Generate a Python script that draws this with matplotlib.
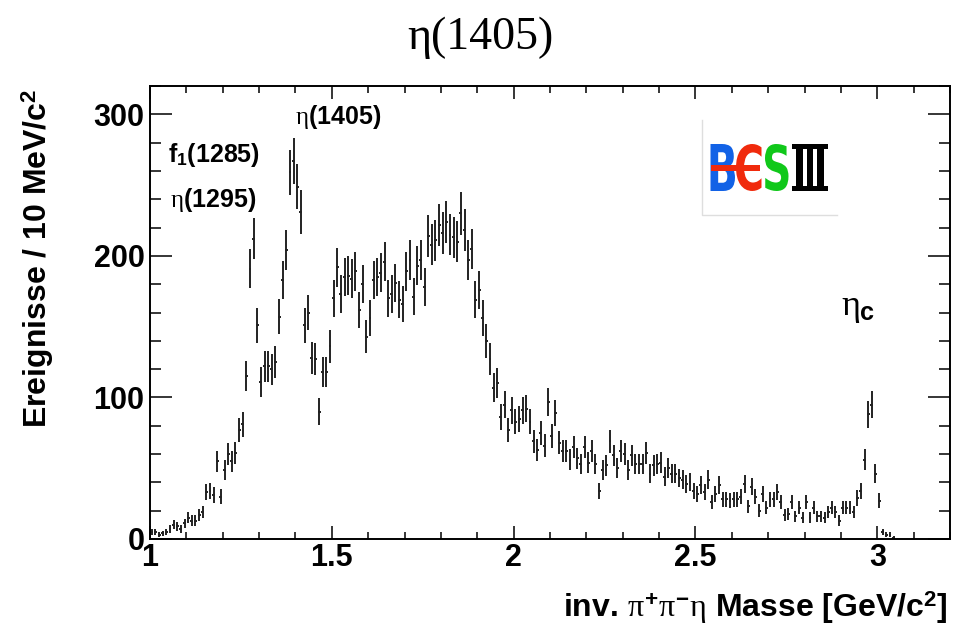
import numpy as np
import matplotlib
matplotlib.use("Agg")
import matplotlib.pyplot as plt
import matplotlib.transforms as mtransforms
from matplotlib.textpath import TextPath
from matplotlib.patches import PathPatch, Rectangle
from matplotlib.font_manager import FontProperties
from matplotlib.ticker import MultipleLocator, FuncFormatter

# ---------------- data ----------------
bin_low_edge = 1.0      # GeV/c^2
bin_width = 0.01        # 10 MeV/c^2

counts_low = [5, 5, 3, 4, 5, 7, 10, 9, 7, 11, 15, 13, 13, 17, 19, 33, 34, 31, 55, 30,
              49, 60, 55, 61, 77, 81, 115, 191, 212, 151, 111, 122, 122, 120, 125, 157,
              183, 204, 259, 267, 249, 231, 151, 160, 128, 127, 90, 118, 118, 136, 170, 192]
counts_bump = [173, 185, 186, 184, 189, 162, 180, 143, 156, 183,
               185, 188, 196, 170, 173, 181, 169, 166, 189, 197,
               171, 193, 197, 178, 214, 208, 211, 222, 216, 224,
               215, 213, 210, 230, 218, 197, 205, 169, 176, 156,
               140, 127, 107, 110, 86, 95, 77, 91, 83]
counts_tail = [85, 91, 92, 83, 69, 63, 75, 66, 97, 73,
               89, 68, 62, 62, 56, 65, 57, 53, 65, 54,
               62, 53, 34, 49, 52, 69, 59, 50, 62, 60,
               49, 59, 53, 53, 53, 61, 46, 52, 53, 54,
               44, 50, 46, 46, 43, 42, 39, 40, 34, 32,
               38, 33, 42, 26, 32, 38]
counts_etac = [28, 28, 27, 28, 28, 30, 39, 23, 37, 30,
               20, 32, 22, 28, 28, 33, 26, 17, 18, 26,
               16, 22, 15, 26, 15, 22, 16, 16, 15, 19,
               22, 19, 13, 22, 22, 22, 19, 29, 34, 56,
               88, 95, 46, 27, 5, 3, 3, 1]

x_ticks = [1, 1.5, 2, 2.5, 3]
y_ticks = [0, 100, 200, 300]
title_text = "η(1405)"
y_label = "Ereignisse / 10 MeV/c$^{2}$"
x_label = r"inv. $\pi^{+}\pi^{-}\eta$ Masse [GeV/c$^{2}$]"
labels = [r"$\eta$(1405)", r"f$_{1}$(1285)", r"$\eta$(1295)"]
label_pos = [(1.399, 292.9), (1.0495, 266.5), (1.055, 234.7)]
etac_label = r"$\eta_{\mathbf{c}}$"
etac_pos = (2.900, 158.0)

# ---------------- style ----------------
plt.rcParams['font.family'] = ['Liberation Sans', 'DejaVu Sans']
plt.rcParams['font.weight'] = 'bold'
plt.rcParams['mathtext.fontset'] = 'custom'
plt.rcParams['mathtext.rm'] = 'Liberation Sans:bold'
plt.rcParams['mathtext.bf'] = 'Liberation Sans:bold'
plt.rcParams['mathtext.sf'] = 'Liberation Sans:bold'
plt.rcParams['mathtext.it'] = 'Liberation Serif:style=normal:weight=normal'

counts = np.array(counts_low + counts_bump + counts_tail + counts_etac, dtype=float)
centers = bin_low_edge + bin_width * (np.arange(len(counts)) + 0.5)
mask = counts > 0

fig = plt.figure(figsize=(9.57, 6.30), dpi=100)
W, H = 957, 630
L, R, T, B = 150, 950, 86, 539
ax = fig.add_axes([L / W, (H - B) / H, (R - L) / W, (B - T) / H])

ax.errorbar(centers[mask], counts[mask], yerr=np.sqrt(counts[mask]),
            xerr=0.004, fmt='none', ecolor='#222222', elinewidth=1.4, capsize=0)

ax.set_xlim(1.0, 3.2)
ax.set_ylim(0, 320)
ax.set_xticks(x_ticks)
ax.set_yticks(y_ticks)
ax.xaxis.set_minor_locator(MultipleLocator(0.1))
ax.yaxis.set_minor_locator(MultipleLocator(20))
ax.xaxis.set_major_formatter(FuncFormatter(lambda v, p: "%g" % v))
ax.yaxis.set_major_formatter(FuncFormatter(lambda v, p: "%g" % v))

for s in ax.spines.values():
    s.set_linewidth(1.4)
    s.set_color('black')

ax.tick_params(axis='x', which='major', direction='in', length=9.5, width=1.1,
               top=True, bottom=True, labelsize=22, pad=3)
ax.tick_params(axis='x', which='minor', direction='in', length=4.8, width=1.1,
               top=True, bottom=True)
ax.tick_params(axis='y', which='major', direction='in', length=16, width=1.1,
               left=True, right=True, labelsize=22, pad=4)
ax.tick_params(axis='y', which='minor', direction='in', length=8, width=1.1,
               left=True, right=True)
for lab in ax.get_xticklabels() + ax.get_yticklabels():
    lab.set_fontweight('bold')

ax.set_ylabel(y_label, fontsize=23, fontweight='bold', loc='top')
ax.yaxis.set_label_coords(-0.117, 0.995)
ax.set_xlabel(x_label, fontsize=23, fontweight='bold', loc='right')
ax.xaxis.set_label_coords(0.9975, -0.11)

fig.text(480 / W, 1 - 38 / H, title_text, ha='center', va='center',
         fontsize=33, fontweight='normal', family=['Liberation Serif', 'DejaVu Serif'])

for txt, (lx, ly) in zip(labels, label_pos):
    ax.text(lx, ly, txt, fontsize=18, fontweight='bold', ha='left', va='baseline')
ax.text(etac_pos[0], etac_pos[1], etac_label, fontsize=26, ha='left', va='baseline')

# ---------------- BESIII logo ----------------
def px2ax(x, y):
    return ((x - L) / (R - L), (B - y) / (B - T))

def glyph(ch, x0, y0, x1, y1, color, fp):
    tp = TextPath((0, 0), ch, size=100, prop=fp)
    ext = tp.get_extents()
    a0, b1 = px2ax(x0, y0)
    a1, b0 = px2ax(x1, y1)
    tr = (mtransforms.Affine2D().translate(-ext.x0, -ext.y0)
          .scale((a1 - a0) / ext.width, (b1 - b0) / ext.height)
          .translate(a0, b0) + ax.transAxes)
    ax.add_patch(PathPatch(tp, transform=tr, facecolor=color, lw=0, clip_on=False))

def box(x0, y0, x1, y1, color):
    a0, b1 = px2ax(x0, y0)
    a1, b0 = px2ax(x1, y1)
    ax.add_patch(Rectangle((a0, b0), a1 - a0, b1 - b0, transform=ax.transAxes,
                           facecolor=color, lw=0, clip_on=False))

fpb = FontProperties(family='DejaVu Sans', weight='bold')
blue, red, green = '#1262e6', '#f02a0c', '#10c81a'
bx0, by0 = px2ax(701.5, 120)
bx1, by1 = px2ax(836.5, 215)
ax.plot([bx0, bx0, bx1], [by0, by1, by1], transform=ax.transAxes,
        color='#dedede', lw=1.0, clip_on=False)
glyph("B", 710.5, 144, 735, 191, blue, fpb)
glyph("C", 736, 144, 761.5, 191, red, fpb)
box(710.5, 165, 760, 170.5, red)
glyph("S", 765, 144, 788.5, 191, green, fpb)
box(791.5, 144, 827.5, 149, 'black')
box(791.5, 186, 827.5, 191, 'black')
box(795.5, 144, 802.5, 191, 'black')
box(806.5, 144, 813, 191, 'black')
box(817, 144, 824, 191, 'black')

fig.savefig("out.png", dpi=100)
